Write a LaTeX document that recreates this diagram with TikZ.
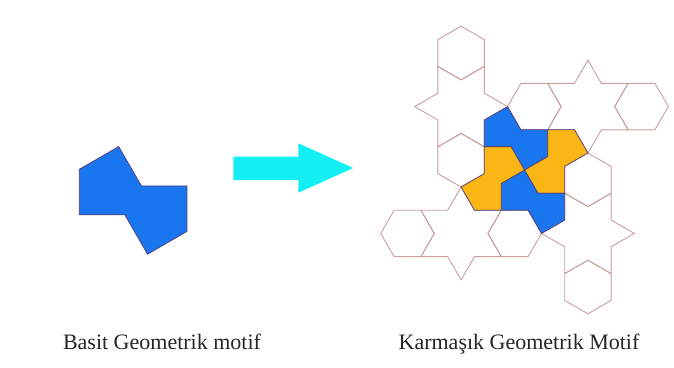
\documentclass[tikz,border=0pt]{standalone}
\usepackage{fontspec}
\setmainfont{Liberation Serif}
\definecolor{pblue}{RGB}{25,118,238}
\definecolor{porange}{RGB}{250,182,20}
\definecolor{pcyan}{RGB}{20,238,245}
\definecolor{hexline}{RGB}{200,160,160}
\definecolor{pieceline}{RGB}{85,60,115}
\tikzset{
  tileline/.style={draw=hexline, line width=0.9pt, line join=miter},
  piece/.style={draw=pieceline, line width=0.7pt, line join=miter},
  lbl/.style={font=\fontsize{22}{25}\selectfont, text=black!85, inner sep=0pt, anchor=base},
}
\begin{document}
\begin{tikzpicture}
\useasboundingbox[fill=white] (0,0) rectangle (674pt,-367pt);
% simple motif
\begin{scope}[shift={(79.3pt,-169.3pt)}, x=45.5pt, y=45.5pt]
  \filldraw[piece, fill=pblue] (0,0) -- ++(30:1) -- ++(-60:1) -- ++(0:1) -- ++(-90:1)
     -- ++(210:1) -- ++(120:1) -- ++(180:1) -- cycle;
\end{scope}
% arrow
\fill[pcyan] (233.3pt,-156.7pt) -- (298.3pt,-156.7pt) -- (298.3pt,-143.3pt)
  -- (353.3pt,-168pt) -- (298.3pt,-192.7pt) -- (298.3pt,-180pt) -- (233.3pt,-180pt) -- cycle;
% complex motif
\begin{scope}[shift={(524.5pt,-170pt)}, x=26.8pt, y=26.8pt]
  \foreach \r/\c in {0/pblue, -90/porange, 180/pblue, 90/porange}{
    \begin{scope}[rotate=\r]
      % star
      \draw[tileline, shift={(-2.366,2.366)}]
        (0:{sqrt(3)}) -- (30:1) -- (60:{sqrt(3)}) -- (90:1) -- (120:{sqrt(3)}) -- (150:1)
        -- (180:{sqrt(3)}) -- (210:1) -- (240:{sqrt(3)}) -- (270:1) -- (300:{sqrt(3)}) -- (330:1) -- cycle;
      % outer hexagon
      \draw[tileline, shift={(-2.366,4.366)}]
        (30:1) -- (90:1) -- (150:1) -- (210:1) -- (270:1) -- (330:1) -- cycle;
      % inner hexagon
      \draw[tileline, shift={(-2.366,0.366)}]
        (30:1) -- (90:1) -- (150:1) -- (210:1) -- (270:1) -- (330:1) -- cycle;
    \end{scope}
  }
  \foreach \r/\c in {0/pblue, -90/porange, 180/pblue, 90/porange}{
    \filldraw[piece, fill=\c, rotate=\r] (-1.5,1.866) -- (-0.634,2.366) -- (-0.134,1.5)
      -- (0.866,1.5) -- (0.866,0.5) -- (0,0) -- (-0.5,0.866) -- (-1.5,0.866) -- cycle;
  }
\end{scope}
% labels
\node[lbl] (basit) at (162pt,-349.5pt) {Basit Geometrik motif};
\node[lbl] (karmasik) at (519pt,-349.5pt) {Karmaşık Geometrik Motif};
\end{tikzpicture}
\end{document}
